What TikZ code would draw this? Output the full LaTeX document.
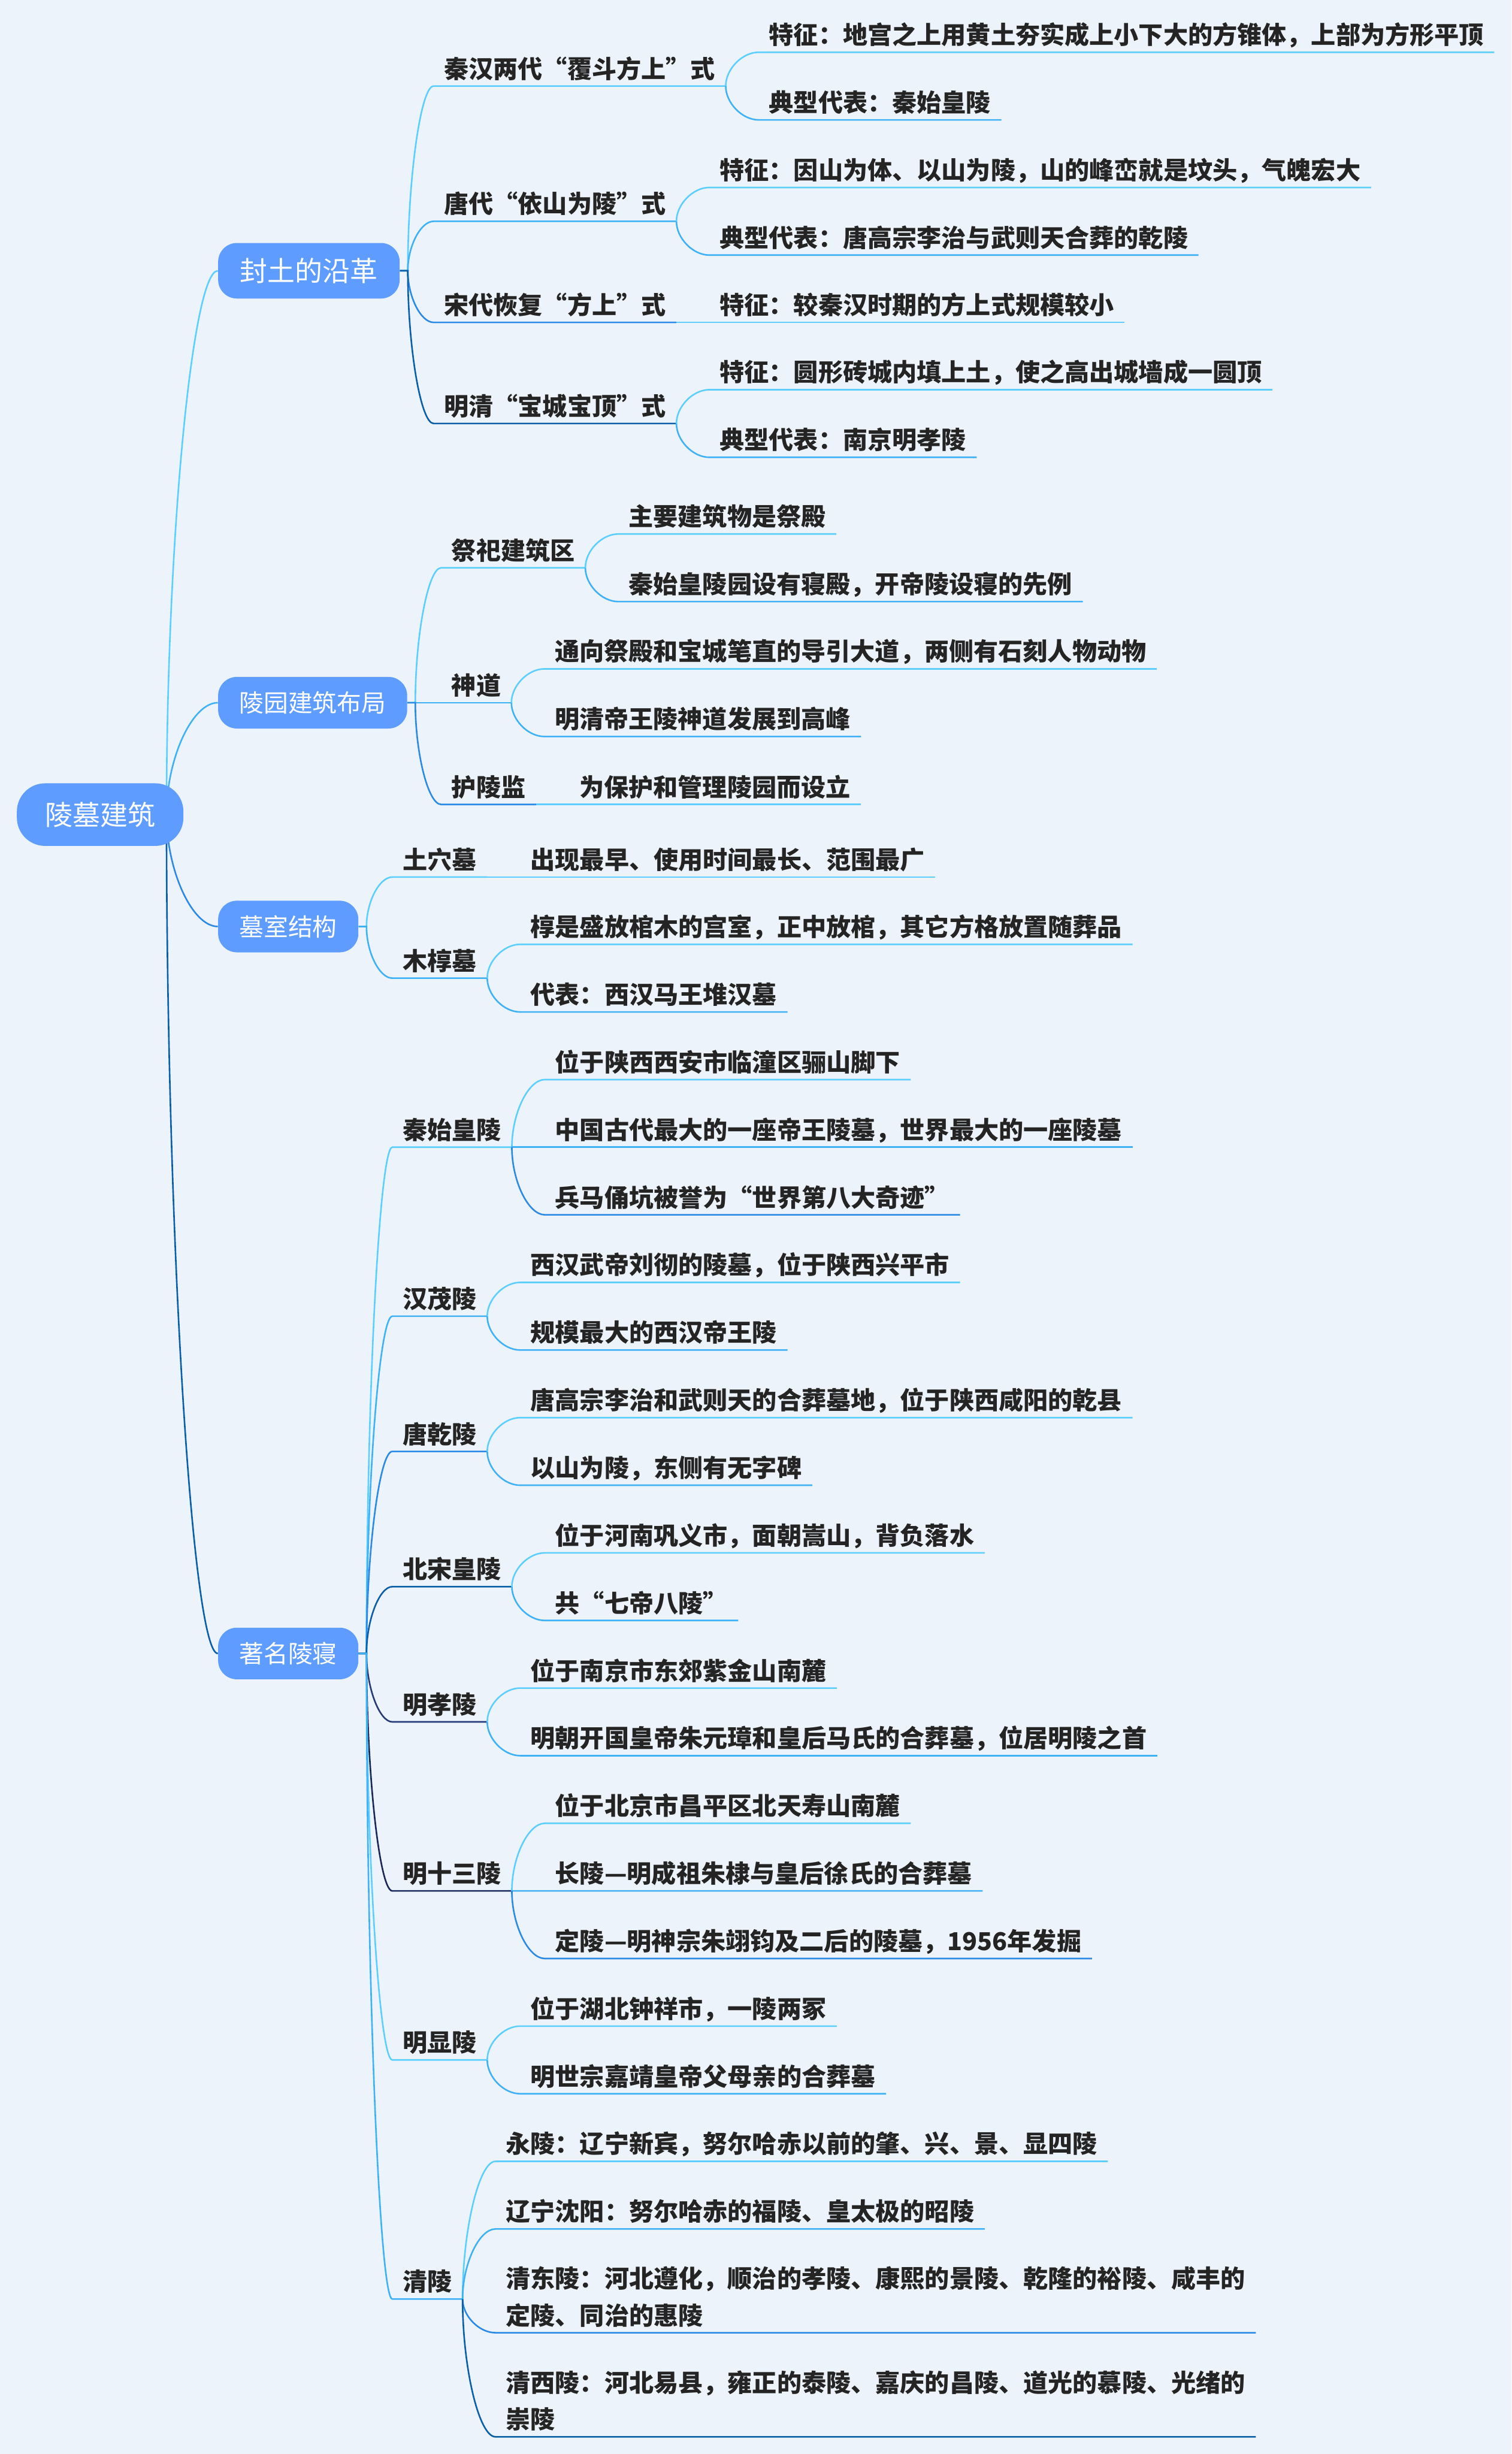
\documentclass[tikz,border=0pt]{standalone}
\usepackage{fontspec}
\setmainfont{Noto Sans CJK SC}
\usetikzlibrary{calc,backgrounds}

\definecolor{bgblue}{HTML}{ECF3FA}
\definecolor{boxblue}{HTML}{5E9DFF}
\definecolor{ink}{HTML}{242424}
\definecolor{lineA}{HTML}{5CCFFF}
\definecolor{lineB}{HTML}{3FB2F7}
\definecolor{lineC}{HTML}{2B8AE6}
\definecolor{lineD}{HTML}{0B5EA8}
\definecolor{lineE}{HTML}{253A78}
\definecolor{lineF}{HTML}{182858}

\begin{document}
\begin{tikzpicture}[
  x=1pt, y=-1pt,
  rootbox/.style={
    fill=boxblue, rounded corners=18pt,
    minimum height=40pt,
    inner xsep=18pt, inner ysep=0pt,
    text=white, font=\fontsize{17.6pt}{21pt}\selectfont
  },
  mainbox/.style={
    fill=boxblue, rounded corners=12pt,
    anchor=west, minimum height=33pt,
    inner xsep=13.6pt, inner ysep=0pt, % padding round the box text
    text=white, font=\fontsize{15.6pt}{19pt}\selectfont
  },
  topic/.style={
    anchor=south west, align=left,
    inner xsep=6.5pt, inner ysep=0pt,
    text=ink, font=\fontsize{15.75pt}{23.5pt}\selectfont\bfseries,
    execute at begin node={\vrule width 0pt height 16pt depth 0pt},
    execute at end node={\vrule width 0pt height 0pt depth 5pt} % baseline 5pt above the underline
  },
  branch/.style={
    line width=1pt,
    to path={.. controls ($(\tikztostart)!.5!(\tikztostart |- \tikztotarget)$)
      and ($(\tikztotarget)!.5!(\tikztostart |- \tikztotarget)$) .. (\tikztotarget)}
  }
]
\begin{scope}[on background layer]
  \fill[bgblue] (0,0) rectangle (966,1568);
\end{scope}
\useasboundingbox (0,0) rectangle (966,1568);

% --- Root ---
\node[rootbox] (root) at (64,520.5) {陵墓建筑};
\coordinate (hub) at ([xshift=-11pt]root.east);

\node[mainbox, minimum height=35.5pt, inner xsep=14pt,
  font=\fontsize{17.6pt}{21pt}\selectfont] (b1) at (139.2,173) {封土的沿革};
\node[mainbox] (b2) at (139.2,449) {陵园建筑布局};
\node[mainbox] (b3) at (139.2,592) {墓室结构};
\node[mainbox] (b4) at (139.2,1056.5) {著名陵寝};

\begin{scope}[on background layer]
  \foreach \b/\col in {b1/lineA, b2/lineB, b3/lineC, b4/lineD}
    \draw[branch, \col] (hub) to (\b.west);
\end{scope}

\foreach \b in {1,...,4}
  \coordinate (b\b j) at ([xshift=5pt]b\b.east);

% --- 封土的沿革 ---
\foreach \txt/\dy/\col [count=\i] in {秦汉两代“覆斗方上”式/118/lineA, 唐代“依山为陵”式/31.6/lineB,
    宋代恢复“方上”式/-33/lineC, 明清“宝城宝顶”式/-97.6/lineD} {
  \node[topic, xshift=21.5pt, yshift=\dy pt] (t1\i) at (b1.east) {\txt};
  \draw[branch, \col] (b1.east) -- (b1j) to (t1\i.south west) -- (t1\i.south east);
}

\foreach \txt/\dy/\col [count=\i] in {特征：地宫之上用黄土夯实成上小下大的方锥体，上部为方形平顶/21.6/lineA,
    典型代表：秦始皇陵/-21.6/lineB} {
  \node[topic, xshift=21pt, yshift=\dy pt] (t11-\i) at (t11.south east) {\txt};
  \draw[branch, \col] (t11.south east) to (t11-\i.south west) -- (t11-\i.south east);
}
\foreach \txt/\dy/\col [count=\i] in {特征：因山为体、以山为陵，山的峰峦就是坟头，气魄宏大/21.6/lineA,
    典型代表：唐高宗李治与武则天合葬的乾陵/-21.6/lineB} {
  \node[topic, xshift=21pt, yshift=\dy pt] (t12-\i) at (t12.south east) {\txt};
  \draw[branch, \col] (t12.south east) to (t12-\i.south west) -- (t12-\i.south east);
}
\node[topic, xshift=21pt] (t13-1) at (t13.south east) {特征：较秦汉时期的方上式规模较小};
\draw[branch, lineA] (t13.south east) to (t13-1.south west) -- (t13-1.south east);
\foreach \txt/\dy/\col [count=\i] in {特征：圆形砖城内填上土，使之高出城墙成一圆顶/21.6/lineA,
    典型代表：南京明孝陵/-21.6/lineB} {
  \node[topic, xshift=21pt, yshift=\dy pt] (t14-\i) at (t14.south east) {\txt};
  \draw[branch, \col] (t14.south east) to (t14-\i.south west) -- (t14-\i.south east);
}

% --- 陵园建筑布局 ---
\foreach \txt/\dy/\col [count=\i] in {祭祀建筑区/86.2/lineA, 神道/0/lineB, 护陵监/-65/lineC} {
  \node[topic, xshift=21.5pt, yshift=\dy pt] (t2\i) at (b2.east) {\txt};
  \draw[branch, \col] (b2.east) -- (b2j) to (t2\i.south west) -- (t2\i.south east);
}
\foreach \txt/\dy/\col [count=\i] in {主要建筑物是祭殿/21.6/lineA,
    秦始皇陵园设有寝殿，开帝陵设寝的先例/-21.6/lineB} {
  \node[topic, xshift=21pt, yshift=\dy pt] (t21-\i) at (t21.south east) {\txt};
  \draw[branch, \col] (t21.south east) to (t21-\i.south west) -- (t21-\i.south east);
}
\foreach \txt/\dy/\col [count=\i] in {通向祭殿和宝城笔直的导引大道，两侧有石刻人物动物/21.6/lineA,
    明清帝王陵神道发展到高峰/-21.6/lineB} {
  \node[topic, xshift=21pt, yshift=\dy pt] (t22-\i) at (t22.south east) {\txt};
  \draw[branch, \col] (t22.south east) to (t22-\i.south west) -- (t22-\i.south east);
}
\node[topic, xshift=21pt] (t23-1) at (t23.south east) {为保护和管理陵园而设立};
\draw[branch, lineA] (t23.south east) to (t23-1.south west) -- (t23-1.south east);

% --- 墓室结构 ---
\foreach \txt/\dy/\col [count=\i] in {土穴墓/31.6/lineA, 木椁墓/-33/lineB} {
  \node[topic, xshift=21.5pt, yshift=\dy pt] (t3\i) at (b3.east) {\txt};
  \draw[branch, \col] (b3.east) -- (b3j) to (t3\i.south west) -- (t3\i.south east);
}
\node[topic, xshift=21pt] (t31-1) at (t31.south east) {出现最早、使用时间最长、范围最广};
\draw[branch, lineA] (t31.south east) to (t31-1.south west) -- (t31-1.south east);
\foreach \txt/\dy/\col [count=\i] in {椁是盛放棺木的宫室，正中放棺，其它方格放置随葬品/21.6/lineA,
    代表：西汉马王堆汉墓/-21.6/lineB} {
  \node[topic, xshift=21pt, yshift=\dy pt] (t32-\i) at (t32.south east) {\txt};
  \draw[branch, \col] (t32.south east) to (t32-\i.south west) -- (t32-\i.south east);
}

% --- 著名陵寝 ---
\foreach \txt/\dy/\col [count=\i] in {秦始皇陵/323.5/lineA, 汉茂陵/215.5/lineB, 唐乾陵/129.1/lineC,
    北宋皇陵/42.7/lineD, 明孝陵/-43.7/lineE, 明十三陵/-151.7/lineF, 明显陵/-259.7/lineA, 清陵/-412.5/lineB} {
  \node[topic, xshift=21.5pt, yshift=\dy pt] (t4\i) at (b4.east) {\txt};
  \draw[branch, \col] (b4.east) -- (b4j) to (t4\i.south west) -- (t4\i.south east);
}

\foreach \txt/\dy/\col [count=\i] in {位于陕西西安市临潼区骊山脚下/43.2/lineA,
    中国古代最大的一座帝王陵墓，世界最大的一座陵墓/0/lineB,
    兵马俑坑被誉为“世界第八大奇迹”/-43.2/lineC} {
  \node[topic, xshift=21pt, yshift=\dy pt] (t41-\i) at (t41.south east) {\txt};
  \draw[branch, \col] (t41.south east) to (t41-\i.south west) -- (t41-\i.south east);
}
\foreach \txt/\dy/\col [count=\i] in {西汉武帝刘彻的陵墓，位于陕西兴平市/21.6/lineA,
    规模最大的西汉帝王陵/-21.6/lineB} {
  \node[topic, xshift=21pt, yshift=\dy pt] (t42-\i) at (t42.south east) {\txt};
  \draw[branch, \col] (t42.south east) to (t42-\i.south west) -- (t42-\i.south east);
}
\foreach \txt/\dy/\col [count=\i] in {唐高宗李治和武则天的合葬墓地，位于陕西咸阳的乾县/21.6/lineA,
    以山为陵，东侧有无字碑/-21.6/lineB} {
  \node[topic, xshift=21pt, yshift=\dy pt] (t43-\i) at (t43.south east) {\txt};
  \draw[branch, \col] (t43.south east) to (t43-\i.south west) -- (t43-\i.south east);
}
\foreach \txt/\dy/\col [count=\i] in {位于河南巩义市，面朝嵩山，背负落水/21.6/lineA,
    共“七帝八陵”/-21.6/lineB} {
  \node[topic, xshift=21pt, yshift=\dy pt] (t44-\i) at (t44.south east) {\txt};
  \draw[branch, \col] (t44.south east) to (t44-\i.south west) -- (t44-\i.south east);
}
\foreach \txt/\dy/\col [count=\i] in {位于南京市东郊紫金山南麓/21.6/lineA,
    明朝开国皇帝朱元璋和皇后马氏的合葬墓，位居明陵之首/-21.6/lineB} {
  \node[topic, xshift=21pt, yshift=\dy pt] (t45-\i) at (t45.south east) {\txt};
  \draw[branch, \col] (t45.south east) to (t45-\i.south west) -- (t45-\i.south east);
}
\foreach \txt/\dy/\col [count=\i] in {位于北京市昌平区北天寿山南麓/43.2/lineA,
    长陵—明成祖朱棣与皇后徐氏的合葬墓/0/lineB,
    定陵—明神宗朱翊钧及二后的陵墓，1956年发掘/-43.2/lineC} {
  \node[topic, xshift=21pt, yshift=\dy pt] (t46-\i) at (t46.south east) {\txt};
  \draw[branch, \col] (t46.south east) to (t46-\i.south west) -- (t46-\i.south east);
}
\foreach \txt/\dy/\col [count=\i] in {位于湖北钟祥市，一陵两冢/21.6/lineA,
    明世宗嘉靖皇帝父母亲的合葬墓/-21.6/lineB} {
  \node[topic, xshift=21pt, yshift=\dy pt] (t47-\i) at (t47.south east) {\txt};
  \draw[branch, \col] (t47.south east) to (t47-\i.south west) -- (t47-\i.south east);
}
\foreach \txt/\dy/\col [count=\i] in {永陵：辽宁新宾，努尔哈赤以前的肇、兴、景、显四陵/88/lineA,
    辽宁沈阳：努尔哈赤的福陵、皇太极的昭陵/44.8/lineB,
    {清东陵：河北遵化，顺治的孝陵、康熙的景陵、乾隆的裕陵、咸丰的\\定陵、同治的惠陵}/-21.5/lineC,
    {清西陵：河北易县，雍正的泰陵、嘉庆的昌陵、道光的慕陵、光绪的\\崇陵}/-88/lineD} {
  \node[topic, xshift=21pt, yshift=\dy pt] (t48-\i) at (t48.south east) {\txt};
  \draw[branch, \col] (t48.south east) to (t48-\i.south west) -- (t48-\i.south east);
}
\end{tikzpicture}
\end{document}
